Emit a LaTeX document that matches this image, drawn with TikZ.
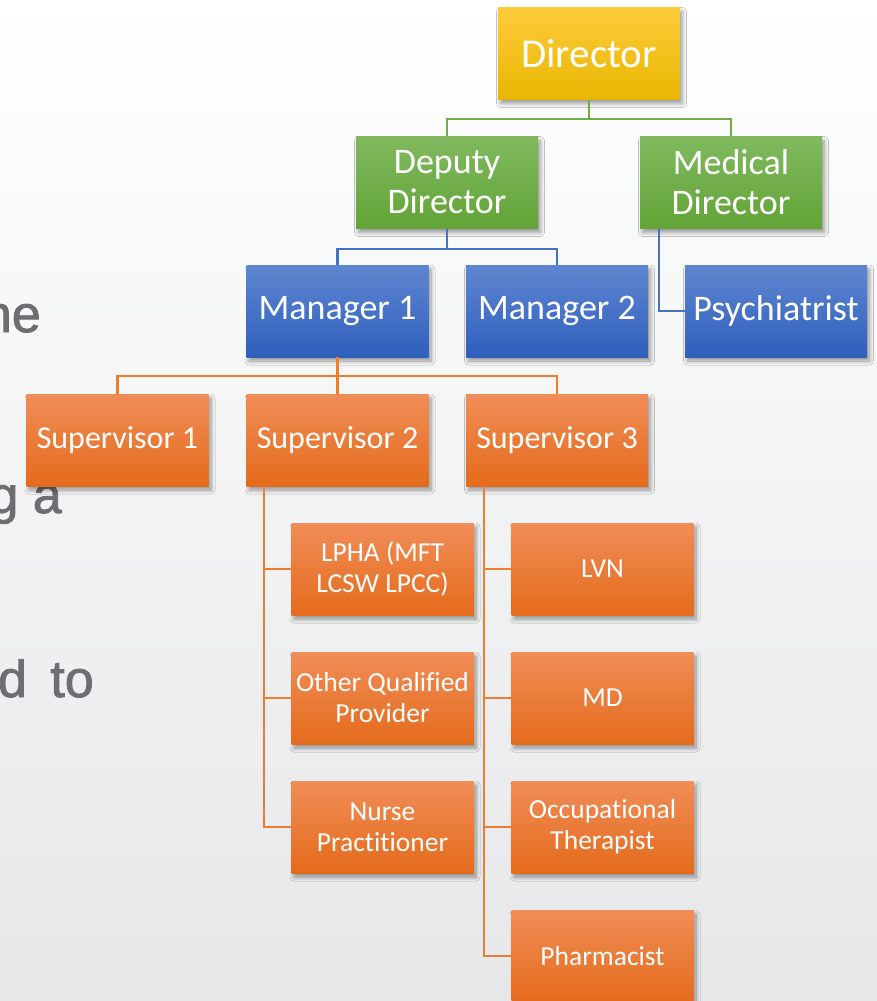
\documentclass[tikz,border=0pt]{standalone}
\usepackage{fontspec}
\setmainfont{Carlito}[Ligatures=NoCommon]
\newfontfamily\slidefont{Liberation Sans}[FakeBold=1.6]
\usetikzlibrary{shadows,shadows.blur}
\definecolor{bgbot}{HTML}{E6E7E9}
\definecolor{goldT}{HTML}{FFCB3C}
\definecolor{goldB}{HTML}{E8B600}
\definecolor{grnT}{HTML}{80B95F}
\definecolor{grnB}{HTML}{62A437}
\definecolor{bluT}{HTML}{5F86D0}
\definecolor{bluB}{HTML}{2F5FBD}
\definecolor{orT}{HTML}{F08D58}
\definecolor{orM}{HTML}{F47C2A}
\definecolor{orB}{HTML}{E46B1B}
\definecolor{gline}{HTML}{70AD47}
\definecolor{bline}{HTML}{4472C4}
\definecolor{oline}{HTML}{ED7D31}
\definecolor{slidegray}{HTML}{6D6E71}
\tikzset{
  box/.style={rectangle, minimum width=182pt, minimum height=92pt, inner sep=0pt,
    text=white, align=center,
    blur shadow={shadow xshift=2.5pt, shadow yshift=-4pt, shadow blur radius=4pt, shadow blur steps=8, shadow opacity=40}},
  goldbox/.style={box, top color=goldT, bottom color=goldB, font=\fontsize{41}{44}\selectfont},
  greenbox/.style={box, top color=grnT, bottom color=grnB, font=\fontsize{36}{40}\selectfont},
  bluebox/.style={box, top color=bluT, bottom color=bluB, font=\fontsize{36}{40}\selectfont},
  supbox/.style={box, top color=orT, middle color=orM, bottom color=orB, font=\fontsize{32}{35}\selectfont},
  leafbox/.style={box, top color=orT, middle color=orM, bottom color=orB, font=\fontsize{27.5}{31}\selectfont},
  conn/.style={line width=2.2pt},
  slidetext/.style={text=slidegray, font=\slidefont\fontsize{52}{56}\selectfont, inner sep=0pt, anchor=base east}
}
\begin{document}
\begin{tikzpicture}[x=1pt,y=-1pt]
\shade[top color=white, bottom color=bgbot] (0,0) rectangle (877,1001);
\useasboundingbox (0,0) rectangle (877,1001);
% clipped slide text on the left
\node[slidetext] (t1) at (41,332) {ne};
\node[slidetext] (t2) at (62,513) {g a};
\node[slidetext] (t3) at (94,697) {d\hspace{9pt} to};
% nodes
\node[goldbox] (dir) at (589,53.5) {Director};
\node[greenbox] (dep) at (447,182.5) {Deputy\\Director};
\node[greenbox] (med) at (731,182.5) {Medical\\Director};
\node[bluebox] (m1) at (337.5,311) {Manager 1};
\node[bluebox] (m2) at (557,311) {Manager 2};
\node[bluebox] (psy) at (776,311) {Psychiatrist};
\node[supbox] (s1) at (117.5,440) {Supervisor 1};
\node[supbox] (s2) at (337.5,440) {Supervisor 2};
\node[supbox] (s3) at (557,440) {Supervisor 3};
\node[leafbox] (a1) at (382.5,569) {LPHA (MFT\\LCSW LPCC)};
\node[leafbox] (a2) at (382.5,698) {Other Qualified\\Provider};
\node[leafbox] (a3) at (382.5,827) {Nurse\\Practitioner};
\node[leafbox] (b1) at (602.5,569) {LVN};
\node[leafbox] (b2) at (602.5,698) {MD};
\node[leafbox] (b3) at (602.5,827) {Occupational\\Therapist};
\node[leafbox] (b4) at (602.5,956) {Pharmacist};
% connectors
\draw[conn, gline] (dir.south) -- +(0,19) -| (dep.north);
\draw[conn, gline] (dir.south) -- +(0,19) -| (med.north);
\draw[conn, bline] (dep.south) -- +(0,20) -| (m1.north);
\draw[conn, bline] (dep.south) -- +(0,20) -| (m2.north);
\draw[conn, bline] ([xshift=19pt]med.south west) |- (psy.west);
\draw[conn, oline] (m1.south) -- +(0,19) -| (s1.north);
\draw[conn, oline] (m1.south) -- +(0,19) -| (s2.north);
\draw[conn, oline] (m1.south) -- +(0,19) -| (s3.north);
\draw[conn, oline] ([xshift=18pt]s2.south west) |- (a1.west);
\draw[conn, oline] ([xshift=18pt]s2.south west) |- (a2.west);
\draw[conn, oline] ([xshift=18pt]s2.south west) |- (a3.west);
\draw[conn, oline] ([xshift=18pt]s3.south west) |- (b1.west);
\draw[conn, oline] ([xshift=18pt]s3.south west) |- (b2.west);
\draw[conn, oline] ([xshift=18pt]s3.south west) |- (b3.west);
\draw[conn, oline] ([xshift=18pt]s3.south west) |- (b4.west);
\end{tikzpicture}
\end{document}
